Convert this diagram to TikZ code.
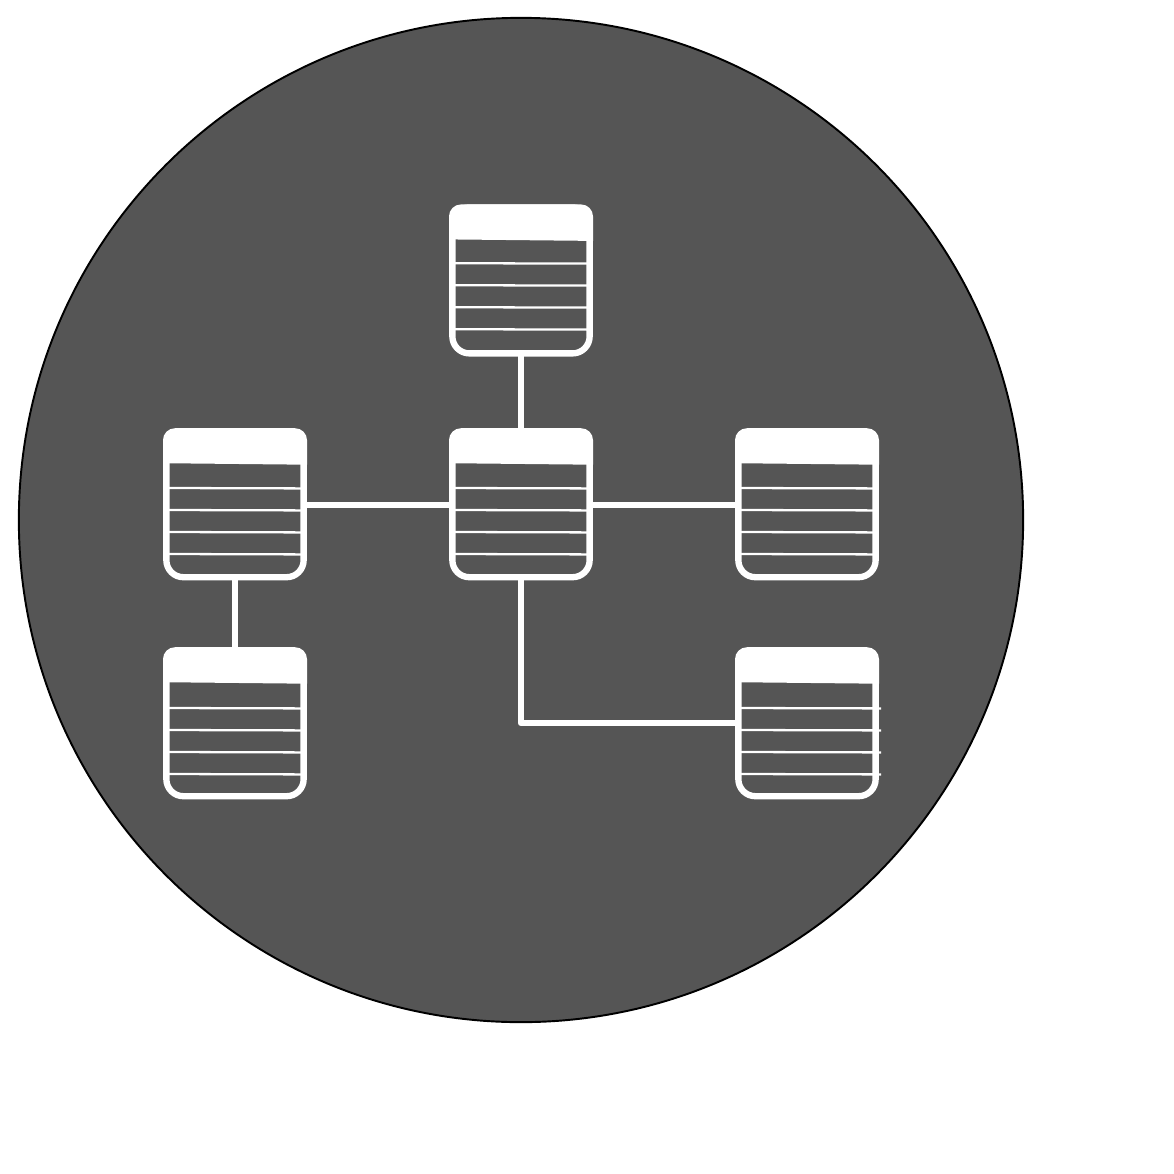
\documentclass[tikz,border=0pt]{standalone}
\usepackage{xcolor}
\usepackage{tikz}
\usetikzlibrary{positioning}
\begin{document}
\begin{tikzpicture}[x=0.02cm, y=-0.02cm,
    tablebox/.style={draw=white, line width=3.6pt, rectangle, rounded corners=0.34cm, outer sep=0pt, inner sep=0pt, minimum width=2.746cm, minimum height=2.92cm},
    headerbar/.style={fill=white},
    rowline/.style={draw=white, line width=1.3pt},
    linkline/.style={draw=white, line width=3.6pt, line join=round}]
      \colorlet{discbg}{black!66.5}
      \useasboundingbox (0, 0) rectangle (1174, 1174);
      \node[circle, draw=black, fill=discbg, line width=1.1pt, minimum size=20.09cm, outer sep=0pt, inner sep=0pt] (backdisc) at (521, 520) {};
      \foreach \name/\tx/\ty/\rowdy/\stub in {top/521/280.4/0/0, center/521/504.2/1/0, east/807/504.2/1/0, west/235/504.2/1/0, southwest/235/723.2/2/0, southeast/807/723.2/2/8} {
        \node[tablebox] (\name) at (\tx, \ty) {};
        \begin{scope}[shift={(\tx, \ty)}]
          \fill[headerbar] (-72, -41) [rounded corners=0.24cm] -- (-72, -76) -- (72, -76) [sharp corners] -- (72, -39.5) -- cycle;
          \draw[rowline] (-68, -17.2 + \rowdy) -- (66 + \stub, -16.8 + \rowdy);
          \draw[rowline] (-68, 4.8 + \rowdy) -- (66 + \stub, 5.2 + \rowdy);
          \draw[rowline] (-68, 26.8 + \rowdy) -- (66 + \stub, 27.2 + \rowdy);
          \draw[rowline] (-68, 48.8 + \rowdy) -- (66 + \stub, 49.2 + \rowdy);
        \end{scope}
      }
      \draw[linkline] (top.south) -- (center.north);
      \draw[linkline] ([yshift=-0.015cm]west.east) -- ([yshift=-0.015cm]center.west);
      \draw[linkline] ([yshift=-0.015cm]center.east) -- ([yshift=-0.015cm]east.west);
      \draw[linkline] (west.south) -- (southwest.north);
      \draw[linkline] (center.south) |- (southeast.west);
\end{tikzpicture}
\end{document}
